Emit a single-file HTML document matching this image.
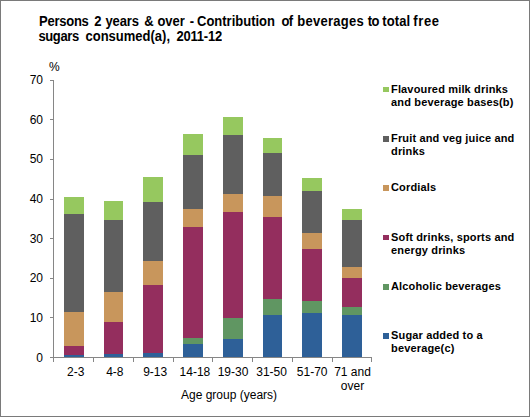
<!DOCTYPE html>
<html><head><meta charset="utf-8"><style>
html,body{margin:0;padding:0;background:#fff;}
#c{position:relative;width:528px;height:415px;border:1px solid #7a7a7a;overflow:hidden;background:#fff;font-family:"Liberation Sans",sans-serif;color:#000;}
svg{position:absolute;left:-1px;top:-1px;}
.t{position:absolute;font-weight:bold;font-size:13px;line-height:15px;transform:scaleY(1.08);transform-origin:0 0;white-space:nowrap;}
.leg{position:absolute;left:390px;font-weight:bold;font-size:11px;letter-spacing:0.16px;line-height:12.5px;white-space:nowrap;}
.yl{position:absolute;left:0;width:42px;text-align:right;font-size:12px;line-height:14px;}
.xl{position:absolute;top:364px;width:80px;text-align:center;font-size:12px;line-height:14px;}
.at{position:absolute;left:180px;top:387px;font-size:12px;line-height:14px;white-space:nowrap;}
.pc{position:absolute;left:48px;top:59px;font-size:12px;line-height:14px;}
</style></head><body><div id="c">
<svg width="530" height="417" shape-rendering="crispEdges">
<rect x="64" y="355" width="20" height="2" fill="#2E6098"/><rect x="64" y="346" width="20" height="9" fill="#942E5E"/><rect x="64" y="312" width="20" height="34" fill="#C8965C"/><rect x="64" y="214" width="20" height="98" fill="#5F5F5F"/><rect x="64" y="197" width="20" height="17" fill="#96C85F"/><rect x="104" y="354" width="19" height="3" fill="#2E6098"/><rect x="104" y="322" width="19" height="32" fill="#942E5E"/><rect x="104" y="292" width="19" height="30" fill="#C8965C"/><rect x="104" y="220" width="19" height="72" fill="#5F5F5F"/><rect x="104" y="201" width="19" height="19" fill="#96C85F"/><rect x="143" y="353" width="20" height="4" fill="#2E6098"/><rect x="143" y="285" width="20" height="68" fill="#942E5E"/><rect x="143" y="261" width="20" height="24" fill="#C8965C"/><rect x="143" y="202" width="20" height="59" fill="#5F5F5F"/><rect x="143" y="177" width="20" height="25" fill="#96C85F"/><rect x="183" y="344" width="20" height="13" fill="#2E6098"/><rect x="183" y="338" width="20" height="6" fill="#609662"/><rect x="183" y="227" width="20" height="111" fill="#942E5E"/><rect x="183" y="209" width="20" height="18" fill="#C8965C"/><rect x="183" y="155" width="20" height="54" fill="#5F5F5F"/><rect x="183" y="134" width="20" height="21" fill="#96C85F"/><rect x="223" y="339" width="20" height="18" fill="#2E6098"/><rect x="223" y="318" width="20" height="21" fill="#609662"/><rect x="223" y="212" width="20" height="106" fill="#942E5E"/><rect x="223" y="194" width="20" height="18" fill="#C8965C"/><rect x="223" y="135" width="20" height="59" fill="#5F5F5F"/><rect x="223" y="117" width="20" height="18" fill="#96C85F"/><rect x="263" y="315" width="19" height="42" fill="#2E6098"/><rect x="263" y="299" width="19" height="16" fill="#609662"/><rect x="263" y="217" width="19" height="82" fill="#942E5E"/><rect x="263" y="196" width="19" height="21" fill="#C8965C"/><rect x="263" y="153" width="19" height="43" fill="#5F5F5F"/><rect x="263" y="138" width="19" height="15" fill="#96C85F"/><rect x="302" y="313" width="20" height="44" fill="#2E6098"/><rect x="302" y="301" width="20" height="12" fill="#609662"/><rect x="302" y="249" width="20" height="52" fill="#942E5E"/><rect x="302" y="233" width="20" height="16" fill="#C8965C"/><rect x="302" y="191" width="20" height="42" fill="#5F5F5F"/><rect x="302" y="178" width="20" height="13" fill="#96C85F"/><rect x="342" y="315" width="20" height="42" fill="#2E6098"/><rect x="342" y="307" width="20" height="8" fill="#609662"/><rect x="342" y="278" width="20" height="29" fill="#942E5E"/><rect x="342" y="267" width="20" height="11" fill="#C8965C"/><rect x="342" y="220" width="20" height="47" fill="#5F5F5F"/><rect x="342" y="209" width="20" height="11" fill="#96C85F"/>
<rect x="53" y="80" width="1" height="278" fill="#868686"/><rect x="53" y="357" width="319" height="1" fill="#868686"/><rect x="50" y="80" width="3" height="1" fill="#868686"/><rect x="50" y="119" width="3" height="1" fill="#868686"/><rect x="50" y="159" width="3" height="1" fill="#868686"/><rect x="50" y="199" width="3" height="1" fill="#868686"/><rect x="50" y="238" width="3" height="1" fill="#868686"/><rect x="50" y="278" width="3" height="1" fill="#868686"/><rect x="50" y="317" width="3" height="1" fill="#868686"/><rect x="50" y="357" width="3" height="1" fill="#868686"/><rect x="53" y="358" width="1" height="4" fill="#868686"/><rect x="93" y="358" width="1" height="4" fill="#868686"/><rect x="133" y="358" width="1" height="4" fill="#868686"/><rect x="173" y="358" width="1" height="4" fill="#868686"/><rect x="212" y="358" width="1" height="4" fill="#868686"/><rect x="252" y="358" width="1" height="4" fill="#868686"/><rect x="292" y="358" width="1" height="4" fill="#868686"/><rect x="332" y="358" width="1" height="4" fill="#868686"/><rect x="371" y="358" width="1" height="4" fill="#868686"/>
<rect x="383" y="87" width="6" height="5" fill="#96C85F"/><rect x="383" y="136" width="6" height="6" fill="#5F5F5F"/><rect x="383" y="185" width="6" height="6" fill="#C8965C"/><rect x="383" y="235" width="6" height="5" fill="#942E5E"/><rect x="383" y="284" width="6" height="6" fill="#609662"/><rect x="383" y="333" width="6" height="6" fill="#2E6098"/>
</svg>
<span class="t" style="top:12px;left:38.00px;letter-spacing:-0.25px">Persons</span><span class="t" style="top:12px;left:93.30px;letter-spacing:0px">2</span><span class="t" style="top:12px;left:104.40px;letter-spacing:-0.1px">years</span><span class="t" style="top:12px;left:143.20px;letter-spacing:0px">&amp;</span><span class="t" style="top:12px;left:156.40px;letter-spacing:0px">over</span><span class="t" style="top:12px;left:188.80px;letter-spacing:0px">-</span><span class="t" style="top:12px;left:196.00px;letter-spacing:0px">Contribution</span><span class="t" style="top:12px;left:280.40px;letter-spacing:-0.6px">of</span><span class="t" style="top:12px;left:296.30px;letter-spacing:0.25px">beverages</span><span class="t" style="top:12px;left:366.70px;letter-spacing:-0.6px">to</span><span class="t" style="top:12px;left:381.30px;letter-spacing:0.1px">total</span><span class="t" style="top:12px;left:412.30px;letter-spacing:0.6px">free</span><span class="t" style="top:27px;left:37.40px;letter-spacing:-0.35px">sugars</span><span class="t" style="top:27px;left:84.50px;letter-spacing:0px">consumed(a),</span><span class="t" style="top:27px;left:175.40px;letter-spacing:-0.2px">2011-12</span>
<div class="pc">%</div>
<div class="yl" style="top:72px">70</div><div class="yl" style="top:112px">60</div><div class="yl" style="top:151px">50</div><div class="yl" style="top:191px">40</div><div class="yl" style="top:231px">30</div><div class="yl" style="top:270px">20</div><div class="yl" style="top:310px">10</div><div class="yl" style="top:350px">0</div>
<div class="xl" style="left:34.7px">2-3</div><div class="xl" style="left:73.8px">4-8</div><div class="xl" style="left:114.19999999999999px">9-13</div><div class="xl" style="left:153.9px">14-18</div><div class="xl" style="left:192px">19-30</div><div class="xl" style="left:230.60000000000002px">31-50</div><div class="xl" style="left:271.2px">51-70</div><div class="xl" style="left:311.5px">71 and<br>over</div>
<div class="at">Age group (years)</div>
<div class="leg" style="top:82px">Flavoured milk drinks<br>and beverage bases(b)</div><div class="leg" style="top:131px">Fruit and veg juice and<br>drinks</div><div class="leg" style="top:180px">Cordials</div><div class="leg" style="top:230px">Soft drinks, sports and<br>energy drinks</div><div class="leg" style="top:279px">Alcoholic beverages</div><div class="leg" style="top:328px">Sugar added to a<br>beverage(c)</div>
</div></body></html>
